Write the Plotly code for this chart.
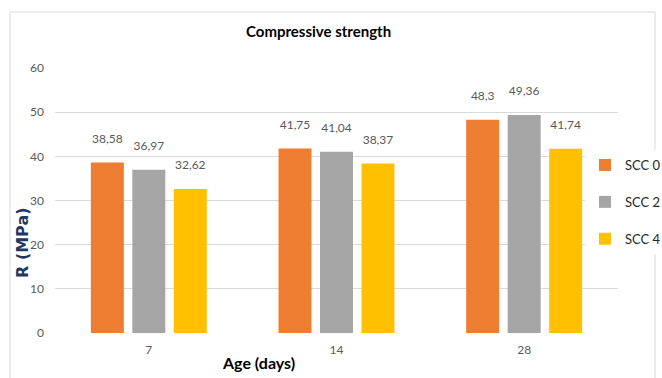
import plotly.graph_objects as go

ages = ["7", "14", "28"]
series_names = ["SCC 0", "SCC 2", "SCC 4"]
scc0 = [38.58, 41.75, 48.3]
scc2 = [36.97, 41.04, 49.36]
scc4 = [32.62, 38.37, 41.74]
colors = ["#ED7D31", "#A5A5A5", "#FFC000"]
y_ticks = [0, 10, 20, 30, 40, 50, 60]

FONT = "Lato, Liberation Sans, sans-serif"

W, H = 662, 378
ML, MR, MT, MB = 55, 44, 68, 45


def fmt(v):
    return f"{v:g}".replace(".", ",")


def px_to_paper(px, py):
    return (px - ML) / (W - ML - MR), (H - MB - py) / (H - MT - MB)


fig = go.Figure()
for i, (name, vals) in enumerate(zip(series_names, [scc0, scc2, scc4])):
    fig.add_trace(go.Bar(
        x=ages, y=vals, name=name,
        marker=dict(color=colors[i], line=dict(width=0)),
        # value label, lifted a little above the bar by an empty second line
        text=[f"{fmt(v)}<br><span style='font-size:6px'>&nbsp;</span>" for v in vals],
        textposition="outside",
        textfont=dict(family=FONT, size=12, color="#595959"),
        cliponaxis=False,
        legendgroup=name,
        hoverinfo="x+y",
    ))

fig.update_layout(
    width=W, height=H,
    margin=dict(l=ML, r=MR, t=MT, b=MB, autoexpand=False),
    paper_bgcolor="white", plot_bgcolor="white",
    barmode="group", bargap=0.337, bargroupgap=0.205,
    font=dict(family=FONT, color="#595959"),
    showlegend=True,
    legend=dict(
        x=px_to_paper(585, 0)[0], y=px_to_paper(0, 150)[1],
        xanchor="left", yanchor="top",
        bgcolor="white", borderwidth=0,
        font=dict(family=FONT, size=13, color="#262626"),
        tracegroupgap=17, itemwidth=30,
    ),
    xaxis=dict(
        type="category", showgrid=False, showline=False, ticks="",
        tickfont=dict(family=FONT, size=12, color="#595959"),
        ticklabelstandoff=8,
    ),
    yaxis=dict(
        range=[0, 60], tickvals=y_ticks, showgrid=True,
        gridcolor="#D9D9D9", gridwidth=1, zeroline=False, showline=False,
        tickfont=dict(family=FONT, size=12, color="#595959"),
        ticklabelstandoff=10,
    ),
)

tx, ty = px_to_paper(318, 31)
ax_x, ax_y = px_to_paper(258, 362)
yt_x, yt_y = px_to_paper(22, 243)
fig.update_layout(annotations=[
    dict(text="<b>Compressive strength</b>", x=tx, y=ty,
         xanchor="center", yanchor="middle",
         xref="paper", yref="paper", showarrow=False,
         font=dict(family=FONT, size=15, color="black")),
    dict(text="<b>Age (days)</b>", x=ax_x, y=ax_y,
         xanchor="center", yanchor="middle",
         xref="paper", yref="paper", showarrow=False,
         font=dict(family=FONT, size=16, color="black")),
    dict(text="<b>R (MPa)</b>", x=yt_x, y=yt_y, textangle=-90,
         xanchor="center", yanchor="middle",
         xref="paper", yref="paper", showarrow=False,
         font=dict(family="DejaVu Sans, sans-serif", size=16, color="#1F3864")),
])

# light outer frame of the chart area
bx0, by0 = px_to_paper(10, 12)
bx1, by1 = px_to_paper(655, 390)
fig.add_shape(type="rect", xref="paper", yref="paper",
              x0=bx0, y0=by1, x1=bx1, y1=by0,
              line=dict(color="#D9D9D9", width=1), layer="below")

fig.write_html("out.html")
